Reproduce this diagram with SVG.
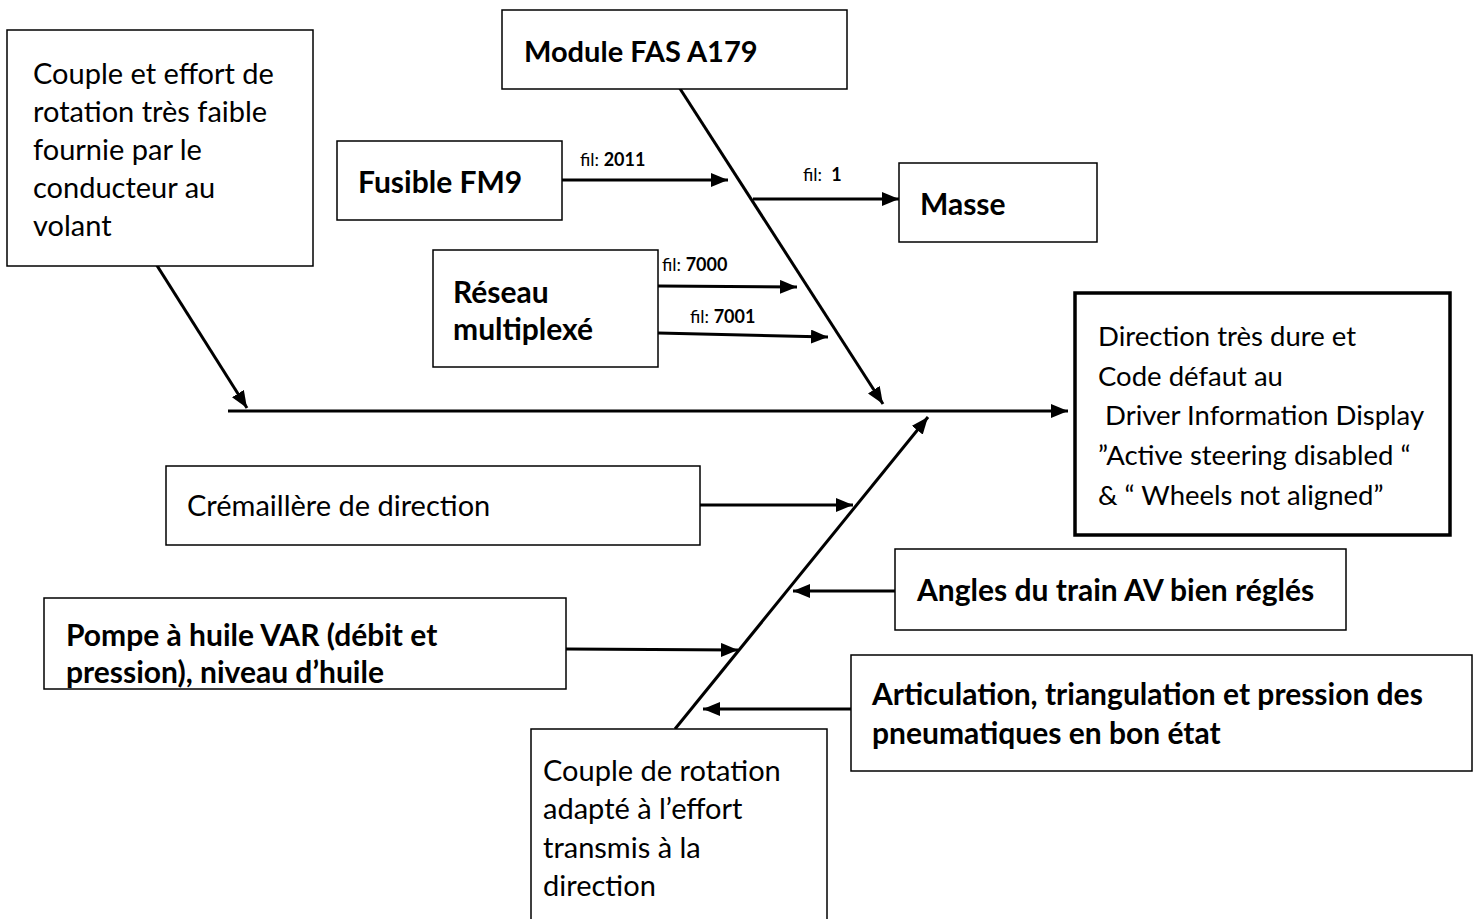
<svg xmlns="http://www.w3.org/2000/svg" width="1479" height="919" viewBox="0 0 1479 919">
<style>
.box{fill:#fff;stroke:#000;stroke-width:1.5}
.boxb{fill:#fff;stroke:#000;stroke-width:3.5}
.t{font-family:Lato,"Liberation Sans",sans-serif;font-size:29px;fill:#000}
.r{font-family:Lato,"Liberation Sans",sans-serif;font-size:27.5px;fill:#000}
.b{font-family:Lato,"Liberation Sans",sans-serif;font-size:30px;font-weight:bold;fill:#000}
.s{font-family:Lato,"Liberation Sans",sans-serif;font-size:18px;fill:#000}
.s tspan{font-weight:bold}
.c{stroke:#000;stroke-width:3;fill:none;marker-end:url(#ah)}
</style>
<defs>
<marker id="ah" markerUnits="userSpaceOnUse" markerWidth="18" markerHeight="14" refX="17" refY="7" orient="auto">
<path d="M0,0 L17,7 L0,14 z" fill="#000"/>
</marker>
</defs>
<g id="connectors">
<line class="c" x1="228" y1="411" x2="1068" y2="411"/>
<line class="c" x1="144" y1="245" x2="247" y2="408"/>
<line class="c" x1="677" y1="84" x2="883" y2="404"/>
<line class="c" x1="675" y1="729" x2="928" y2="417"/>
<line class="c" x1="562" y1="180" x2="728" y2="180"/>
<line class="c" x1="753" y1="199" x2="899" y2="199"/>
<line class="c" x1="658" y1="286" x2="797" y2="287"/>
<line class="c" x1="658" y1="333" x2="828" y2="337"/>
<line class="c" x1="700" y1="505" x2="853" y2="505"/>
<line class="c" x1="895" y1="591" x2="793" y2="591"/>
<line class="c" x1="566" y1="649" x2="738" y2="650"/>
<line class="c" x1="851" y1="709" x2="703" y2="709"/>
<text class="s" x="580" y="166">fil: <tspan>2011</tspan></text>
<text class="s" x="803" y="181" xml:space="preserve">fil:  <tspan>1</tspan></text>
<text class="s" x="662" y="271">fil: <tspan>7000</tspan></text>
<text class="s" x="690" y="323">fil: <tspan>7001</tspan></text>
</g>
<g id="n-couple-effort">
<rect class="box" x="7" y="30" width="306" height="236"/>
<text class="t" x="33" y="84">Couple et effort de</text>
<text class="t" x="33" y="122">rotation très faible</text>
<text class="t" x="33" y="160">fournie par le</text>
<text class="t" x="33" y="198">conducteur au</text>
<text class="t" x="33" y="236">volant</text>
</g>
<g id="n-module">
<rect class="box" x="502" y="10" width="345" height="79"/>
<text class="b" x="524" y="62" style="font-size:29px">Module FAS A179</text>
</g>
<g id="n-fusible">
<rect class="box" x="337" y="141" width="225" height="79"/>
<text class="b" x="358" y="193">Fusible FM9</text>
</g>
<g id="n-masse">
<rect class="box" x="899" y="163" width="198" height="79"/>
<text class="b" x="920" y="215">Masse</text>
</g>
<g id="n-reseau">
<rect class="box" x="433" y="250" width="225" height="117"/>
<text class="b" x="453" y="303">Réseau</text>
<text class="b" x="453" y="340">multiplexé</text>
</g>
<g id="n-result">
<rect class="boxb" x="1075" y="293" width="375" height="242"/>
<text class="r" x="1098" y="346">Direction très dure et</text>
<text class="r" x="1098" y="386">Code défaut au</text>
<text class="r" x="1098" y="425" xml:space="preserve"> Driver Information Display</text>
<text class="r" x="1098" y="465">”Active steering disabled “</text>
<text class="r" x="1098" y="505">&amp; “ Wheels not aligned”</text>
</g>
<g id="n-cremaillere">
<rect class="box" x="166" y="466" width="534" height="79"/>
<text class="t" x="187" y="516">Crémaillère de direction</text>
</g>
<g id="n-angles">
<rect class="box" x="895" y="549" width="451" height="81"/>
<text class="b" x="917" y="601">Angles du train AV bien réglés</text>
</g>
<g id="n-pompe">
<rect class="box" x="44" y="598" width="522" height="91"/>
<text class="b" x="66" y="646">Pompe à huile VAR (débit et</text>
<text class="b" x="66" y="683">pression), niveau d’huile</text>
</g>
<g id="n-articulation">
<rect class="box" x="851" y="655" width="621" height="116"/>
<text class="b" x="872" y="705">Articulation, triangulation et pression des</text>
<text class="b" x="872" y="744">pneumatiques en bon état</text>
</g>
<g id="n-couple-rotation">
<rect class="box" x="531" y="729" width="296" height="200"/>
<text class="t" x="543" y="781">Couple de rotation</text>
<text class="t" x="543" y="819">adapté à l’effort</text>
<text class="t" x="543" y="858">transmis à la</text>
<text class="t" x="543" y="896">direction</text>
</g>
</svg>
